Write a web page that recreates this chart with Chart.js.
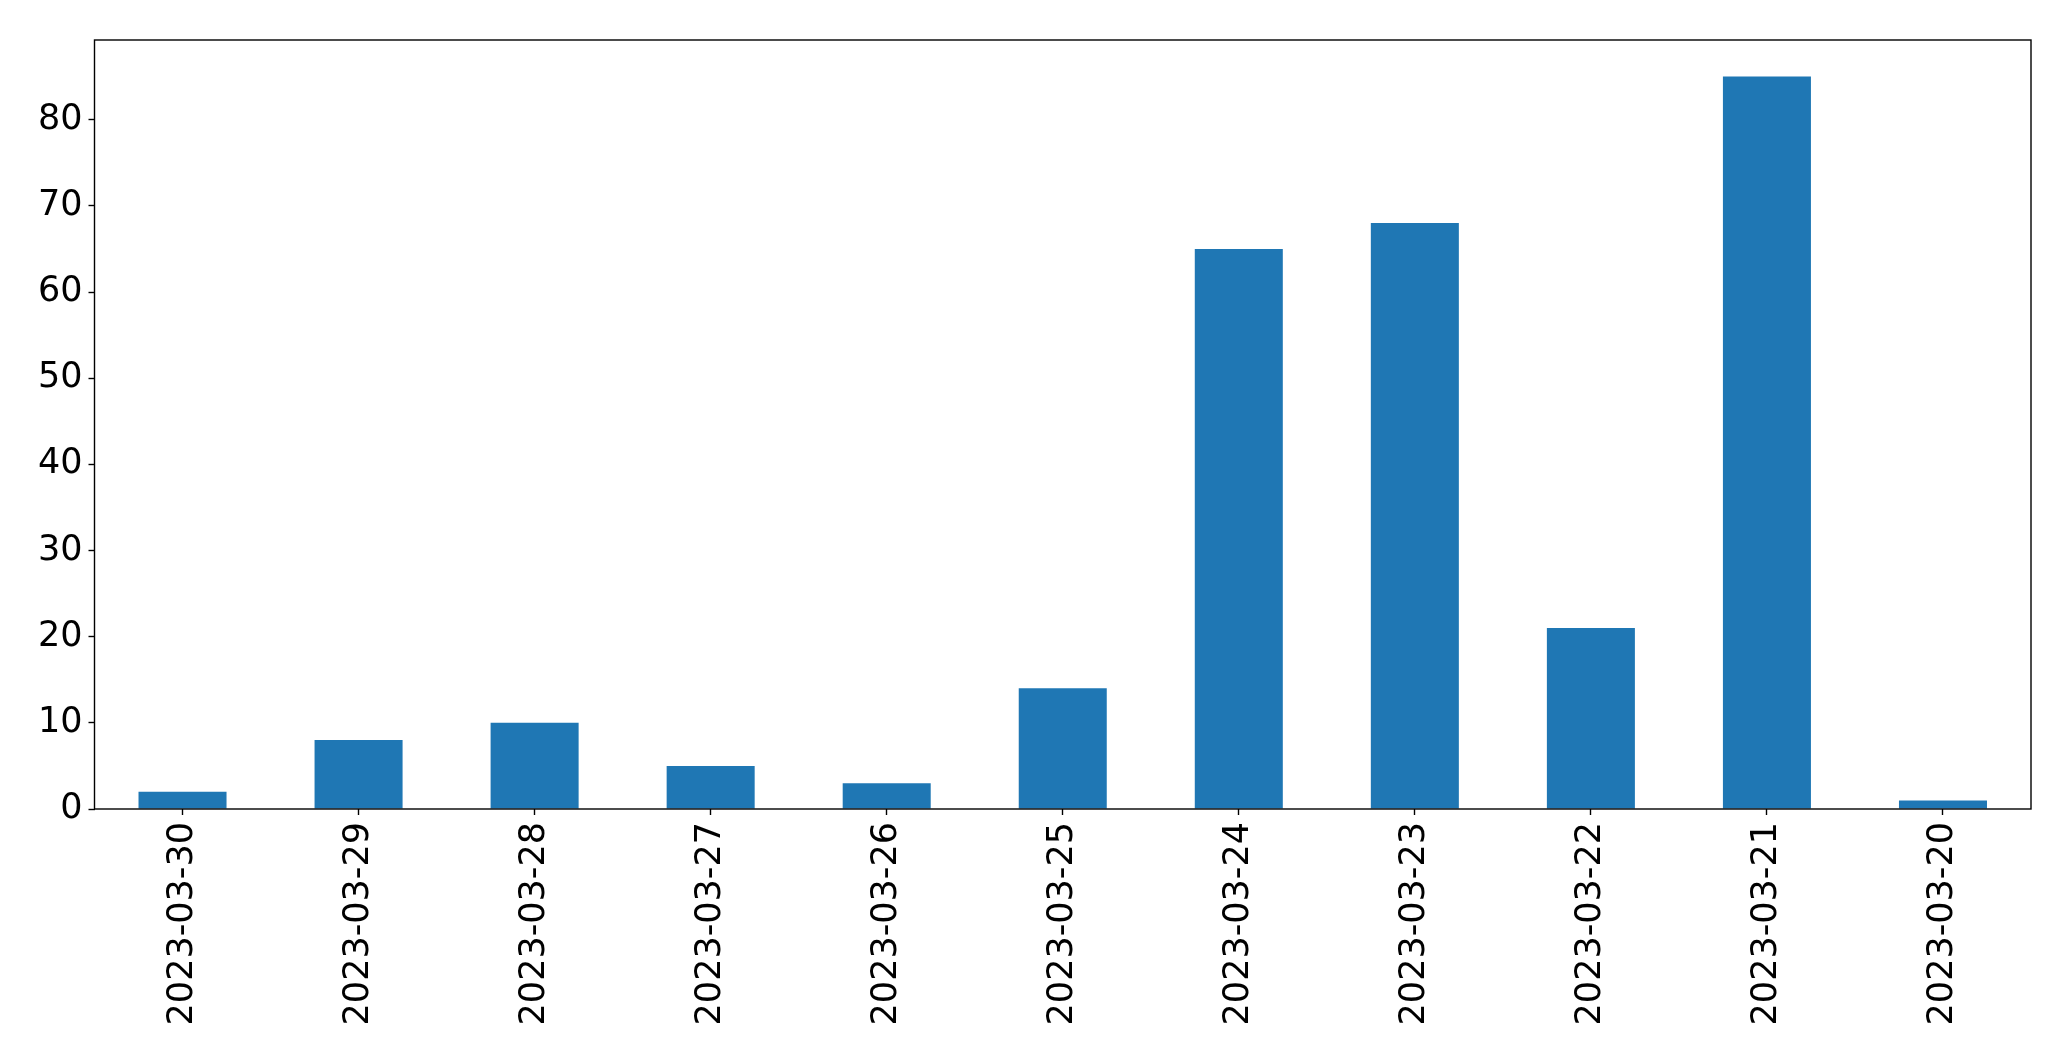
<!DOCTYPE html>
<html>
<head>
<meta charset="utf-8">
<script src="https://cdn.jsdelivr.net/npm/chart.js@4/dist/chart.umd.min.js"></script>
<style>
  body { margin: 0; background: #fff; }
  #wrap { width: 2071px; height: 1061px; }
</style>
</head>
<body>
<div id="wrap"><canvas id="chart" width="2071" height="1061"></canvas></div>
<script>
const dates = ["2023-03-30", "2023-03-29", "2023-03-28", "2023-03-27", "2023-03-26", "2023-03-25",
  "2023-03-24", "2023-03-23", "2023-03-22", "2023-03-21", "2023-03-20"];
const counts = [2, 8, 10, 5, 3, 14, 65, 68, 21, 85, 1];
const yTicks = [0, 10, 20, 30, 40, 50, 60, 70, 80];

// box around the plot area, like the matplotlib spines
const frame = {
  id: "frame",
  afterDraw(chart) {
    const { ctx, chartArea: a } = chart;
    ctx.save();
    ctx.strokeStyle = "#000";
    ctx.lineWidth = 1.4;
    ctx.strokeRect(a.left, a.top, a.right - a.left, a.bottom - a.top);
    ctx.restore();
  }
};

const font = { family: "DejaVu Sans", size: 35 };

new Chart(document.getElementById("chart").getContext("2d"), {
  type: "bar",
  data: {
    labels: dates,
    datasets: [{
      data: counts,
      backgroundColor: "#1f77b4",
      categoryPercentage: 1,
      barPercentage: 0.5
    }]
  },
  options: {
    responsive: false,
    animation: false,
    layout: { padding: { left: 0, top: 40, right: 40, bottom: 0 } },
    plugins: { legend: { display: false }, tooltip: { enabled: false } },
    scales: {
      x: {
        grid: { offset: false, drawOnChartArea: false, drawTicks: true, tickLength: 6, tickWidth: 1.4, color: "#000" },
        border: { display: false },
        ticks: { color: "#000", font, autoSkip: false, maxRotation: 90, minRotation: 90, padding: 7 },
        afterFit(scale) { scale.height = 252; }
      },
      y: {
        min: 0,
        max: 89.25,
        grid: { drawOnChartArea: false, drawTicks: true, tickLength: 6, tickWidth: 1.4, color: "#000" },
        border: { display: false },
        ticks: { color: "#000", font, padding: 6 },
        afterBuildTicks(scale) { scale.ticks = yTicks.map(v => ({ value: v })); },
        afterFit(scale) { scale.width = 94.5; }
      }
    }
  },
  plugins: [frame]
});
</script>
</body>
</html>
